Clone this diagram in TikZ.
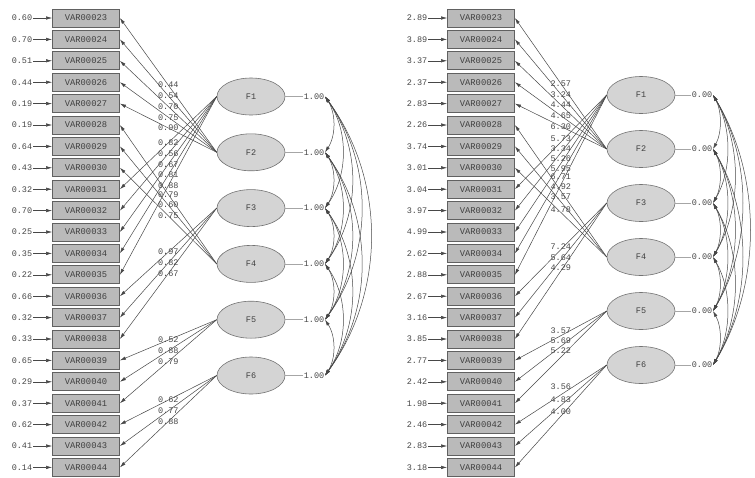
\documentclass[tikz,border=0pt]{standalone}
\usepackage{fontspec}
\newfontfamily\lisfont{Liberation Mono}
\usetikzlibrary{arrows.meta,shapes.geometric}
\begin{document}
\begin{tikzpicture}[x=1pt,y=-1pt,
  lisbox/.style={draw=black!62, fill=black!27, line width=0.8pt, minimum width=67pt, minimum height=18pt, inner sep=0pt, font=\lisfont\fontsize{8.8}{9}\selectfont, text=black!75},
  lisfactor/.style={ellipse, draw=black!55, fill=black!17, line width=0.6pt, minimum width=68pt, minimum height=37pt, inner sep=0pt, font=\lisfont\fontsize{8.5}{9}\selectfont, text=black!75},
  lisnum/.style={font=\lisfont\fontsize{8.5}{9}\selectfont, text=black!72, inner sep=0.6pt},
  lisarrow/.style={draw=black!72, line width=0.5pt, -{Latex[length=6pt,width=3.4pt]}},
  lisarc/.style={draw=black!72, line width=0.5pt, {Latex[length=6pt,width=3.4pt]}-{Latex[length=6pt,width=3.4pt]}},
  lisvar/.style={draw=black!35, line width=0.5pt},
]
\useasboundingbox[fill=white] (0,0) rectangle (755,477);

% ---------------- LEFT DIAGRAM ----------------
\foreach \v/\e [count=\i from 0] in {23/0.60,24/0.70,25/0.51,26/0.44,27/0.19,28/0.19,29/0.64,30/0.43,31/0.32,32/0.70,33/0.25,34/0.35,35/0.22,36/0.66,37/0.32,38/0.33,39/0.65,40/0.29,41/0.37,42/0.62,43/0.41,44/0.14}{
  \node[lisbox] (L\v) at (86, 18+21.4*\i) {VAR000\v};
  \node[lisnum] (LE\v) at (22, 18+21.4*\i) {\e};
  \draw[lisarrow] (LE\v.east) -- (L\v.west);
}
\foreach \f in {1,...,6}{
  \node[lisfactor] (LF\f) at (251, 96.5+55.8*\f-55.8) {F\f};
  \node[lisnum] (LV\f) at (314, 96.5+55.8*\f-55.8) {1.00};
  \draw[lisvar] (LF\f.east) -- (LV\f.west);
}
\foreach \f/\v/\val in {2/23/0.44,2/24/0.54,2/25/0.70,2/26/0.75,2/27/0.90,4/28/0.79,4/29/0.60,4/30/0.75,1/31/0.82,1/32/0.56,1/33/0.67,1/34/0.81,1/35/0.88,3/36/0.97,3/37/0.82,3/38/0.67,5/39/0.52,5/40/0.88,5/41/0.79,6/42/0.62,6/43/0.77,6/44/0.88}{
  \draw[lisarrow] (LF\f.west) -- node[lisnum] (LL\v) {\val} (L\v.east);
}
\foreach \i in {1,...,5}{
  \pgfmathtruncatemacro\inext{\i+1}
  \foreach \j in {\inext,...,6}{
    \pgfmathsetmacro\arcc{11+12.5*(\j-\i-1)}
    \pgfmathsetmacro\arck{0.3*55.8*(\j-\i)}
    \draw[lisarc] (LV\i.east) .. controls +(\arcc,\arck) and +(\arcc,-\arck) .. (LV\j.east);
  }
}

% ---------------- RIGHT DIAGRAM ----------------
\foreach \v/\e [count=\i from 0] in {23/2.89,24/3.89,25/3.37,26/2.37,27/2.83,28/2.26,29/3.74,30/3.01,31/3.04,32/3.97,33/4.99,34/2.62,35/2.88,36/2.67,37/3.16,38/3.85,39/2.77,40/2.42,41/1.98,42/2.46,43/2.83,44/3.18}{
  \node[lisbox] (R\v) at (481, 18+21.4*\i) {VAR000\v};
  \node[lisnum] (RE\v) at (417, 18+21.4*\i) {\e};
  \draw[lisarrow] (RE\v.east) -- (R\v.west);
}
\foreach \f in {1,...,6}{
  \node[lisfactor] (RF\f) at (641, 95+54*\f-54) {F\f};
  \node[lisnum] (RV\f) at (702, 95+54*\f-54) {0.00};
  \draw[lisvar] (RF\f.east) -- (RV\f.west);
}
\foreach \f/\v/\val/\sh in {2/23/2.57/0,2/24/3.24/0,2/25/4.44/0,2/26/4.65/0,2/27/6.30/0,4/28/4.92/4,4/29/3.57/5,4/30/4.78/3,1/31/5.73/3,1/32/3.34/4,1/33/5.26/5,1/34/5.95/6,1/35/6.71/8,3/36/7.24/3,3/37/5.64/3,3/38/4.29/3,5/39/3.57/5,5/40/5.69/6,5/41/5.22/6,6/42/3.56/8,6/43/4.83/6,6/44/4.00/5}{
  \draw[lisarrow] (RF\f.west) -- node[lisnum, yshift=\sh pt] (RL\v) {\val} (R\v.east);
}
\foreach \i in {1,...,5}{
  \pgfmathtruncatemacro\inext{\i+1}
  \foreach \j in {\inext,...,6}{
    \pgfmathsetmacro\arcc{9+10*(\j-\i-1)}
    \pgfmathsetmacro\arck{0.3*54*(\j-\i)}
    \draw[lisarc] (RV\i.east) .. controls +(\arcc,\arck) and +(\arcc,-\arck) .. (RV\j.east);
  }
}
\end{tikzpicture}
\end{document}
